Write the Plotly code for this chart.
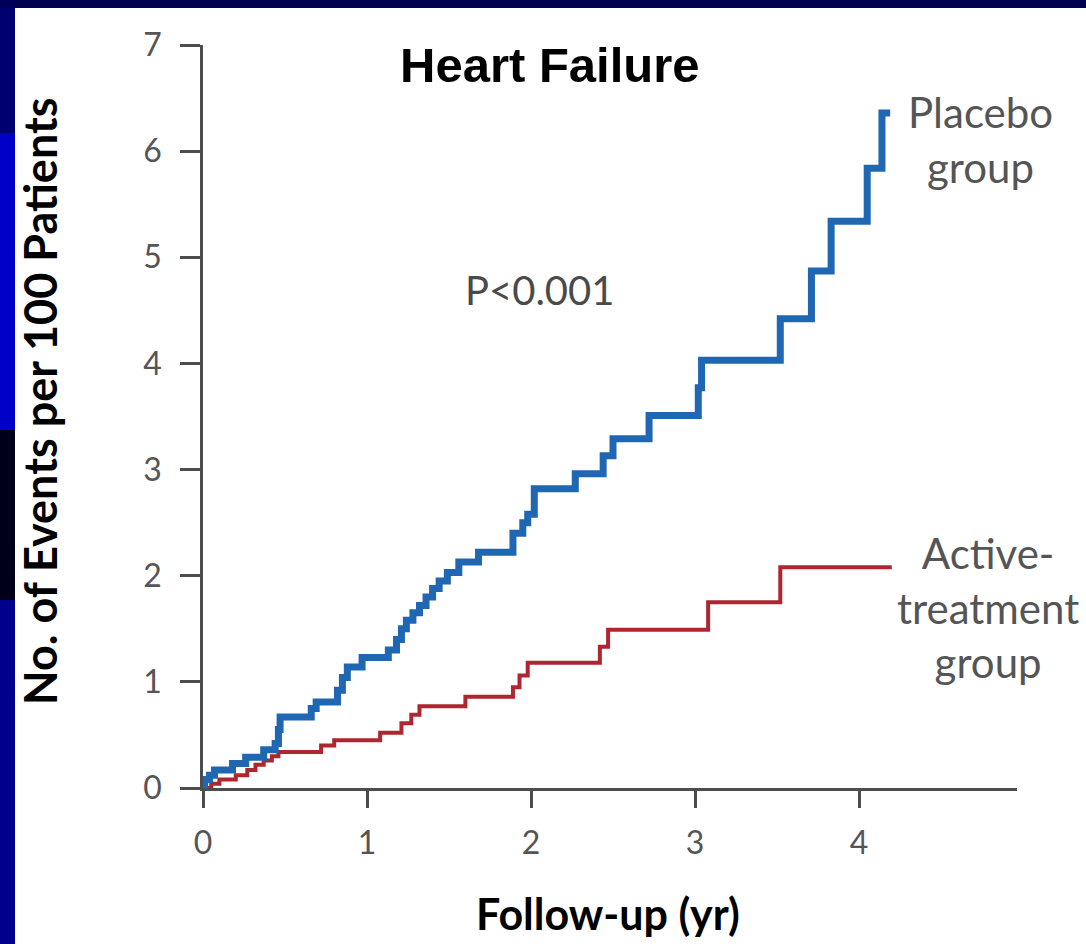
import plotly.graph_objects as go

# Placebo group (cumulative events per 100 patients), step function
placebo_t = [0.00, 0.01, 0.04, 0.07, 0.18, 0.26, 0.37, 0.44, 0.46, 0.47, 0.66, 0.69, 0.82, 0.85, 0.88,
             0.97, 1.13, 1.18, 1.21, 1.24, 1.28, 1.32, 1.36, 1.40, 1.44, 1.49, 1.56, 1.68, 1.89, 1.95,
             1.98, 2.02, 2.27, 2.44, 2.50, 2.72, 3.02, 3.04, 3.52, 3.71, 3.83, 4.05, 4.14, 4.19]
placebo_y = [0.00, 0.08, 0.12, 0.17, 0.23, 0.29, 0.36, 0.42, 0.55, 0.67, 0.75, 0.81, 0.92, 1.04, 1.14,
             1.23, 1.30, 1.40, 1.50, 1.58, 1.65, 1.72, 1.80, 1.88, 1.95, 2.03, 2.13, 2.22, 2.40, 2.50,
             2.58, 2.82, 2.96, 3.13, 3.29, 3.51, 3.77, 4.03, 4.42, 4.87, 5.34, 5.84, 6.36, 6.36]

# Active-treatment group
active_t = [0.00, 0.05, 0.10, 0.20, 0.27, 0.32, 0.37, 0.42, 0.46, 0.72, 0.80, 1.08, 1.21, 1.27, 1.32,
            1.60, 1.89, 1.93, 1.98, 2.42, 2.47, 3.08, 3.52, 4.20]
active_y = [0.00, 0.04, 0.08, 0.12, 0.17, 0.22, 0.26, 0.30, 0.34, 0.40, 0.45, 0.52, 0.61, 0.69, 0.77,
            0.86, 0.95, 1.06, 1.18, 1.33, 1.49, 1.75, 2.08, 2.08]

x_ticks = [0, 1, 2, 3, 4]
y_ticks = [0, 1, 2, 3, 4, 5, 6, 7]

W, H = 1086, 944
L, R, T, B = 203, 69, 45, 156
PW, PH = W - L - R, H - T - B


def px(x):
    return (x - L) / PW


def py(y):
    return (H - B - y) / PH


fig = go.Figure()
fig.add_trace(go.Scatter(x=active_t, y=active_y, mode="lines", line=dict(shape="hv", color="#b02630", width=4),
                         showlegend=False, hoverinfo="skip"))
fig.add_trace(go.Scatter(x=placebo_t, y=placebo_y, mode="lines", line=dict(shape="hv", color="#1f66b3", width=7),
                         showlegend=False, hoverinfo="skip"))

axis_col = "#4d4d4d"
tick_font = dict(family="Lato, sans-serif", size=32, color="#555555")

fig.update_layout(
    width=W, height=H,
    margin=dict(l=L, r=R, t=T, b=B, pad=0),
    paper_bgcolor="white", plot_bgcolor="white",
    xaxis=dict(range=[0, (W - L - R) / 164.0], tickvals=x_ticks, ticktext=[str(v) for v in x_ticks],
               showgrid=False, zeroline=False, showline=True, linecolor=axis_col, linewidth=2.5,
               ticks="outside", ticklen=17, tickwidth=2.5, tickcolor=axis_col, tickfont=tick_font,
               ticklabelstandoff=8),
    yaxis=dict(range=[0, 7], tickvals=y_ticks, ticktext=[str(v) for v in y_ticks],
               showgrid=False, zeroline=False, showline=True, linecolor=axis_col, linewidth=2.5,
               ticks="outside", ticklen=20, tickwidth=2.5, tickcolor=axis_col, tickfont=tick_font,
               ticklabelstandoff=12),
)

# slide frame (dark blue stripes at top and left)
frame = [
    (0, 15, 0, 8, "#00005a"),
    (0, 15, 8, 133, "#000070"),
    (0, 15, 133, 430, "#0000c8"),
    (0, 15, 430, 600, "#000018"),
    (0, 15, 600, 944, "#00008c"),
    (15, 1086, 0, 8, "#000050"),
]
for x0, x1, y0, y1, c in frame:
    fig.add_shape(type="rect", xref="paper", yref="paper", x0=px(x0), x1=px(x1), y0=py(y1), y1=py(y0),
                  fillcolor=c, line=dict(width=0), layer="above")

ann = [
    ("<b>Heart Failure</b>", 550, 65, dict(family="Liberation Sans, Arial, sans-serif", size=49, color="black"), 0),
    ("P<0.001", 539, 290, dict(family="Lato, sans-serif", size=40, color="#4a4a4a"), 0),
    ("Placebo<br>group", 980, 139, dict(family="Lato, sans-serif", size=42, color="#555555"), 0),
    ("Active-<br>treatment<br>group", 988, 607, dict(family="Lato, sans-serif", size=42, color="#555555"), 0),
    ("<b>No. of Events per 100 Patients</b>", 40, 402, dict(family="Lato, sans-serif", size=45, color="black"), -90),
    ("<b>Follow-up (yr)</b>", 608, 913, dict(family="Lato, sans-serif", size=43, color="black"), 0),
]
for text, x, y, font, ang in ann:
    fig.add_annotation(text=text, xref="paper", yref="paper", x=px(x), y=py(y), xanchor="center",
                       yanchor="middle", showarrow=False, font=font, textangle=ang, align="center")

fig.write_html("out.html", config={"displayModeBar": False},
               post_script="document.body.style.margin='0px';document.body.style.overflow='hidden';")
